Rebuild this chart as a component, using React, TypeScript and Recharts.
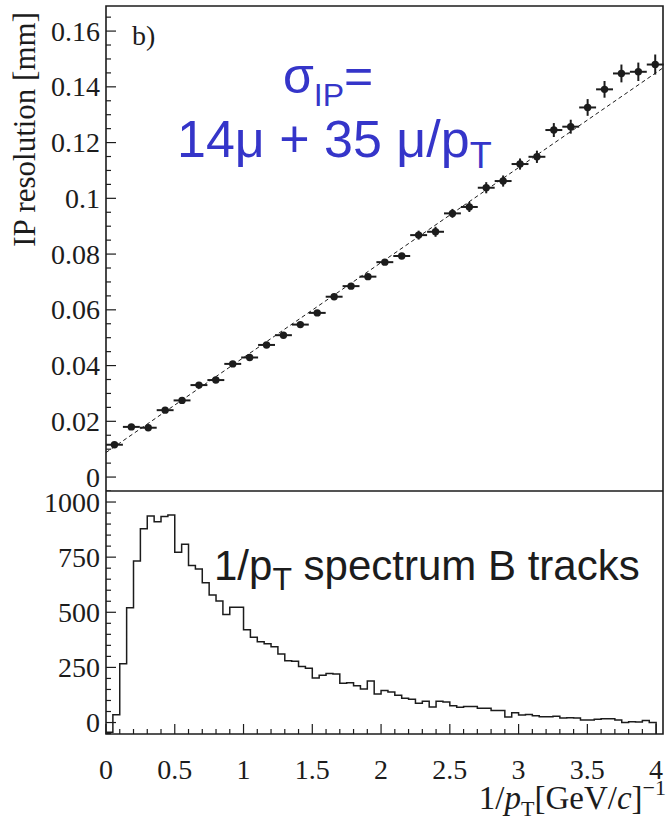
import React from "react";
import {
  ComposedChart,
  Scatter,
  Line,
  XAxis,
  YAxis,
  ErrorBar,
  ReferenceArea,
} from "recharts";

// --- top panel: IP resolution vs 1/pT ---
const IP_X = [
  0.0625, 0.1875, 0.3125, 0.4375, 0.5625, 0.6875, 0.8125, 0.9375, 1.0625, 1.1875, 1.3125,
  1.4375, 1.5625, 1.6875, 1.8125, 1.9375, 2.0625, 2.1875, 2.3125, 2.4375, 2.5625, 2.6875,
  2.8125, 2.9375, 3.0625, 3.1875, 3.3125, 3.4375, 3.5625, 3.6875, 3.8125, 3.9375, 4.0625,
];
const IP_Y = [
  0.0116, 0.018, 0.0177, 0.024, 0.0275, 0.033, 0.0348, 0.0406, 0.0429, 0.0474, 0.0509,
  0.0547, 0.0589, 0.0647, 0.0685, 0.0719, 0.0771, 0.0793, 0.0868, 0.088, 0.0946, 0.0969,
  0.1038, 0.1062, 0.1123, 0.1149, 0.1245, 0.1257, 0.1326, 0.1391, 0.1448, 0.1454, 0.148,
];
const IP_YERR = [
  0.0005, 0.0005, 0.0005, 0.0005, 0.0005, 0.0005, 0.0005, 0.0005, 0.0005, 0.0005, 0.0008,
  0.0008, 0.0008, 0.0008, 0.0008, 0.001, 0.001, 0.001, 0.0016, 0.0018, 0.0016, 0.0018,
  0.002, 0.002, 0.002, 0.0022, 0.0025, 0.0025, 0.003, 0.003, 0.0032, 0.0033, 0.0036,
];
const IP_XERR = 0.0625;

// dashed fit line end points
const FIT_X = [0, 4.12];
const FIT_Y = [0.0088, 0.1468];

// --- bottom panel: 1/pT spectrum, 80 bins of 0.05 from 0 ---
const HIST_BIN = 0.05;
const HIST_COUNTS = [
  -44, 35, 267, 520, 732, 879, 937, 911, 934, 941,
  772, 808, 712, 696, 634, 578, 551, 490, 523, 523,
  421, 387, 366, 357, 344, 311, 280, 278, 254, 246,
  202, 214, 222, 220, 178, 180, 167, 152, 188, 129,
  145, 138, 124, 110, 106, 88, 97, 70, 96, 93,
  76, 69, 73, 73, 65, 65, 55, 55, 25, 44,
  34, 37, 31, 26, 26, 28, 20, 22, 20, 11,
  12, 15, 17, 17, 11, 0, 3, 2, 9, 0,
];

// axis ranges / ticks
const TOP_X_DOMAIN = [0, 4.12];
const TOP_Y_DOMAIN = [-0.005, 0.169];
const BOT_X_DOMAIN = [0, 4.05];
const BOT_Y_DOMAIN = [-52, 1050];

const X_LABELS = [0, 0.5, 1, 1.5, 2, 2.5, 3, 3.5, 4];
const TOP_Y_LABELS = [0, 0.02, 0.04, 0.06, 0.08, 0.1, 0.12, 0.14, 0.16];
const BOT_Y_LABELS = [0, 250, 500, 750, 1000];

const INK = "#1c1c1c";
const BLUE = "#3535c9";
const SERIF = "'Liberation Serif', 'DejaVu Serif', serif";
const SANS = "'Liberation Sans', Arial, sans-serif";

function steps(lo: number, hi: number, step: number) {
  const out: number[] = [];
  for (let v = lo; v <= hi + 1e-9; v += step) out.push(Number(v.toFixed(4)));
  return out;
}

const X_TICKS_TOP = steps(0, 4.1, 0.1);
const X_TICKS_BOT = steps(0, 4.0, 0.1);
const TOP_Y_TICKS = steps(-0.005, 0.165, 0.005);
const BOT_Y_TICKS = steps(-50, 1000, 50);

const isIn = (list: number[], v: number) => list.some((l) => Math.abs(l - v) < 1e-7);

// ROOT style: ticks drawn inward
function LeftTick(props: any) {
  const { x, y, payload, labels } = props;
  const major = isIn(labels, payload.value);
  return (
    <g>
      <line x1={x} x2={x + (major ? 10 : 5)} y1={y} y2={y} stroke={INK} strokeWidth={1.2} />
      {major && (
        <text
          x={x - 6}
          y={y}
          textAnchor="end"
          dominantBaseline="central"
          fontFamily={SERIF}
          fontSize={28}
          fill={INK}
        >
          {String(payload.value)}
        </text>
      )}
    </g>
  );
}

function BottomTick(props: any) {
  const { x, y, payload, showLabel } = props;
  const major = isIn(X_LABELS, payload.value);
  return (
    <g>
      <line x1={x} x2={x} y1={y} y2={y - (major ? 10 : 5)} stroke={INK} strokeWidth={1.2} />
      {major && showLabel && (
        <text x={x} y={y + 45} textAnchor="middle" fontFamily={SERIF} fontSize={28} fill={INK}>
          {String(payload.value)}
        </text>
      )}
    </g>
  );
}

const DotShape = (p: any) => <circle cx={p.cx} cy={p.cy} r={3.7} fill={INK} />;

export default function App() {
  const ipData = IP_X.map((x, i) => ({ x, y: IP_Y[i], ex: IP_XERR, ey: IP_YERR[i] }));
  const fitData = FIT_X.map((x, i) => ({ x, y: FIT_Y[i] }));
  const histData = HIST_COUNTS.map((c, i) => ({ x: i * HIST_BIN, y: c }));
  // close the outline down to the frame floor after the last bin
  histData.push({ x: HIST_COUNTS.length * HIST_BIN, y: BOT_Y_DOMAIN[0] });

  return (
    <div
      style={{
        position: "absolute",
        left: 0,
        top: 0,
        width: 667,
        height: 817,
        background: "#fff",
      }}
    >
      <div style={{ position: "absolute", left: 0, top: 0 }}>
        <ComposedChart width={667} height={491} margin={{ top: 6, right: 4, bottom: 0, left: 0 }}>
          <XAxis
            type="number"
            dataKey="x"
            domain={TOP_X_DOMAIN}
            allowDataOverflow
            ticks={X_TICKS_TOP}
            interval={0}
            height={0}
            tickSize={0}
            tickMargin={0}
            axisLine={false}
            tickLine={false}
            tick={(p: any) => <BottomTick {...p} showLabel={false} />}
          />
          <YAxis
            type="number"
            domain={TOP_Y_DOMAIN}
            allowDataOverflow
            ticks={TOP_Y_TICKS}
            interval={0}
            width={106}
            tickSize={0}
            tickMargin={0}
            axisLine={false}
            tickLine={false}
            tick={(p: any) => <LeftTick {...p} labels={TOP_Y_LABELS} />}
          />
          <ReferenceArea
            x1={TOP_X_DOMAIN[0]}
            x2={TOP_X_DOMAIN[1]}
            y1={TOP_Y_DOMAIN[0]}
            y2={TOP_Y_DOMAIN[1]}
            fill="none"
            stroke={INK}
            strokeWidth={1.6}
            ifOverflow="visible"
          />
          <Line
            data={fitData}
            dataKey="y"
            type="linear"
            stroke={INK}
            strokeWidth={1}
            strokeDasharray="4 3"
            dot={false}
            isAnimationActive={false}
          />
          <Scatter data={ipData} dataKey="y" shape={DotShape} isAnimationActive={false}>
            <ErrorBar dataKey="ex" direction="x" width={0} stroke={INK} strokeWidth={2} isAnimationActive={false} />
            <ErrorBar dataKey="ey" direction="y" width={0} stroke={INK} strokeWidth={2} isAnimationActive={false} />
          </Scatter>
        </ComposedChart>
      </div>

      <div style={{ position: "absolute", left: 0, top: 491 }}>
        <ComposedChart width={667} height={326} margin={{ top: 0, right: 4, bottom: 0, left: 0 }}>
          <XAxis
            type="number"
            dataKey="x"
            domain={BOT_X_DOMAIN}
            allowDataOverflow
            ticks={X_TICKS_BOT}
            interval={0}
            height={83}
            tickSize={0}
            tickMargin={0}
            axisLine={false}
            tickLine={false}
            tick={(p: any) => <BottomTick {...p} showLabel />}
          />
          <YAxis
            type="number"
            domain={BOT_Y_DOMAIN}
            allowDataOverflow
            ticks={BOT_Y_TICKS}
            interval={0}
            width={106}
            tickSize={0}
            tickMargin={0}
            axisLine={false}
            tickLine={false}
            tick={(p: any) => <LeftTick {...p} labels={BOT_Y_LABELS} />}
          />
          <ReferenceArea
            x1={BOT_X_DOMAIN[0]}
            x2={BOT_X_DOMAIN[1]}
            y1={BOT_Y_DOMAIN[0]}
            y2={BOT_Y_DOMAIN[1]}
            fill="none"
            stroke={INK}
            strokeWidth={1.6}
            ifOverflow="visible"
          />
          <Line
            data={histData}
            dataKey="y"
            type="stepAfter"
            stroke={INK}
            strokeWidth={1.5}
            dot={false}
            isAnimationActive={false}
          />
        </ComposedChart>
      </div>

      {/* free text: panel tag, formula, axis titles */}
      <svg
        width={667}
        height={817}
        style={{ position: "absolute", left: 0, top: 0, pointerEvents: "none" }}
      >
        <text x={132} y={45} fontFamily={SERIF} fontSize={28} fill={INK}>
          b)
        </text>
        <text x={283} y={93} fontFamily={SANS} fontSize={50} fill={BLUE}>
          σ
          <tspan fontSize={32} dy={13}>IP</tspan>
          <tspan fontSize={50} dy={-13}>=</tspan>
        </text>
        <text x={177} y={157} fontFamily={SANS} fontSize={52} fill={BLUE}>
          14μ + 35 μ/p
          <tspan fontSize={36} dy={11}>T</tspan>
        </text>
        <text x={214} y={580} fontFamily={SANS} fontSize={42} fill={INK}>
          1/p
          <tspan fontSize={32} dy={10}>T</tspan>
          <tspan dy={-10}> spectrum B tracks</tspan>
        </text>
        <text
          transform="rotate(-90)"
          x={-12}
          y={35}
          textAnchor="end"
          fontFamily={SERIF}
          fontSize={31}
          fill={INK}
        >
          IP resolution [mm]
        </text>
        <text x={666} y={809} textAnchor="end" fontFamily={SERIF} fontSize={33} fill={INK}>
          1/
          <tspan fontStyle="italic">p</tspan>
          <tspan fontSize={22} dy={7}>T</tspan>
          <tspan dy={-7}>[GeV/</tspan>
          <tspan fontStyle="italic">c</tspan>
          <tspan>]</tspan>
          <tspan fontSize={22} dy={-14}>−1</tspan>
        </text>
      </svg>
    </div>
  );
}
